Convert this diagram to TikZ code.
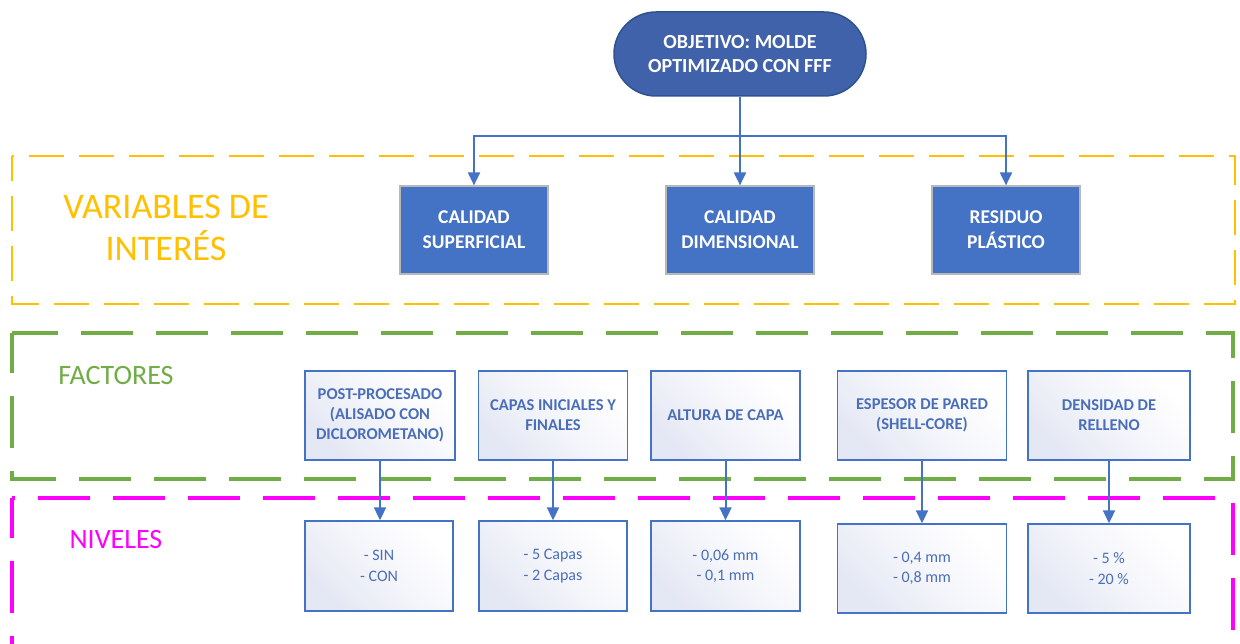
\documentclass[tikz,border=0pt]{standalone}
\usepackage{fontspec}
\setmainfont{Carlito}
\usetikzlibrary{arrows.meta}

\definecolor{objfill}{HTML}{4062AA}
\definecolor{objline}{HTML}{2F528F}
\definecolor{accent}{HTML}{4472C4}
\definecolor{boxline}{HTML}{B8B8B8}
\definecolor{facttext}{HTML}{4A6EB8}
\definecolor{lavender}{HTML}{E4E7F4}
\definecolor{zoneyellow}{HTML}{FFC000}
\definecolor{zonegreen}{HTML}{70AD47}
\definecolor{zonemagenta}{HTML}{FF00FF}

\begin{document}
\begin{tikzpicture}[x=1pt,y=-1pt,
  objective/.style={draw=objline, line width=1.5pt, fill=objfill, text=white,
    rounded corners=42pt, minimum width=252pt, minimum height=84pt, inner sep=0pt,
    align=center, font=\fontsize{20}{24}\selectfont\bfseries},
  varbox/.style={draw=boxline, line width=1.2pt, fill=accent, text=white,
    minimum width=148pt, minimum height=88pt, inner sep=0pt,
    align=center, font=\fontsize{19.5}{25}\selectfont\bfseries},
  softfill/.style={top color=lavender, bottom color=white, middle color=white!60!lavender,
    shading angle=135},
  factbox/.style={draw=accent, line width=1.4pt, softfill, text=facttext,
    minimum height=89pt, inner sep=0pt,
    align=center, font=\fontsize{16.5}{20}\selectfont\bfseries},
  levelbox/.style={draw=accent, line width=1.4pt, softfill, text=facttext, inner sep=0pt,
    align=center, font=\fontsize{16}{20.5}\selectfont},
  zone/.style={line width=3.2pt, dash pattern=on 52pt off 23pt},
  zonelabel/.style={inner sep=0pt, align=center},
  arr/.style={draw=accent, line width=2pt, -{Triangle[width=12pt,length=13pt]}}
]
\clip (0,0) rectangle (1240,644);
\fill[white] (0,0) rectangle (1240,644);

% dashed zones
\draw[zoneyellow, line width=2.6pt, dash pattern=on 35pt off 15pt, dash phase=10pt]
  (12,156) rectangle (1235,304);
\draw[zonegreen, zone, dash phase=12pt] (12,333) rectangle (1233,479);
\draw[zonemagenta, zone, dash phase=12pt] (12,498) rectangle (1233,660);

% zone titles
\node[zonelabel, text=zoneyellow, font=\fontsize{36}{42}\selectfont] (tvar) at (166,228)
  {VARIABLES DE\\INTERÉS};
\node[zonelabel, text=zonegreen, font=\fontsize{28}{32}\selectfont] (tfac) at (116,376) {FACTORES};
\node[zonelabel, text=zonemagenta, font=\fontsize{28}{32}\selectfont] (tniv) at (116,540) {NIVELES};

% objective
\node[objective] (obj) at (740,54) {OBJETIVO: MOLDE\\OPTIMIZADO CON FFF};

% response variables
\node[varbox] (v1) at (474,230) {CALIDAD\\SUPERFICIAL};
\node[varbox] (v2) at (740,230) {CALIDAD\\DIMENSIONAL};
\node[varbox] (v3) at (1006,230) {RESIDUO\\PLÁSTICO};

\coordinate (hub) at (740,136);
\draw[accent, line width=2pt] (obj.south) -- (hub);
\draw[arr] (hub) -| (v1.north);
\draw[arr] (hub) -- (v2.north);
\draw[arr] (hub) -| (v3.north);

% factors
\node[factbox, minimum width=150pt] (f1) at (380,415.5) {POST-PROCESADO\\(ALISADO CON\\DICLOROMETANO)};
\node[factbox, minimum width=149pt] (f2) at (553,415.5) {CAPAS INICIALES Y\\FINALES};
\node[factbox, minimum width=149pt] (f3) at (725.5,415.5) {ALTURA DE CAPA};
\node[factbox, minimum width=169pt] (f4) at (922,415.5) {ESPESOR DE PARED\\(SHELL-CORE)};
\node[factbox, minimum width=162pt] (f5) at (1109,415.5) {DENSIDAD DE\\RELLENO};

% levels
\node[levelbox, minimum width=148pt, minimum height=90pt] (l1) at (379,566) {- SIN\\- CON};
\node[levelbox, minimum width=148pt, minimum height=90pt] (l2) at (553,566) {- 5 Capas\\- 2 Capas};
\node[levelbox, minimum width=149pt, minimum height=90pt] (l3) at (725.5,566) {- 0,06 mm\\- 0,1 mm};
\node[levelbox, minimum width=169pt, minimum height=89pt] (l4) at (922,568.5) {- 0,4 mm\\- 0,8 mm};
\node[levelbox, minimum width=162pt, minimum height=89pt] (l5) at (1109,568.5) {- 5 \%\\- 20 \%};

\foreach \i in {1,...,5}{
  \draw[arr] (f\i.south) -- (f\i.south |- l\i.north);
}
\end{tikzpicture}
\end{document}
